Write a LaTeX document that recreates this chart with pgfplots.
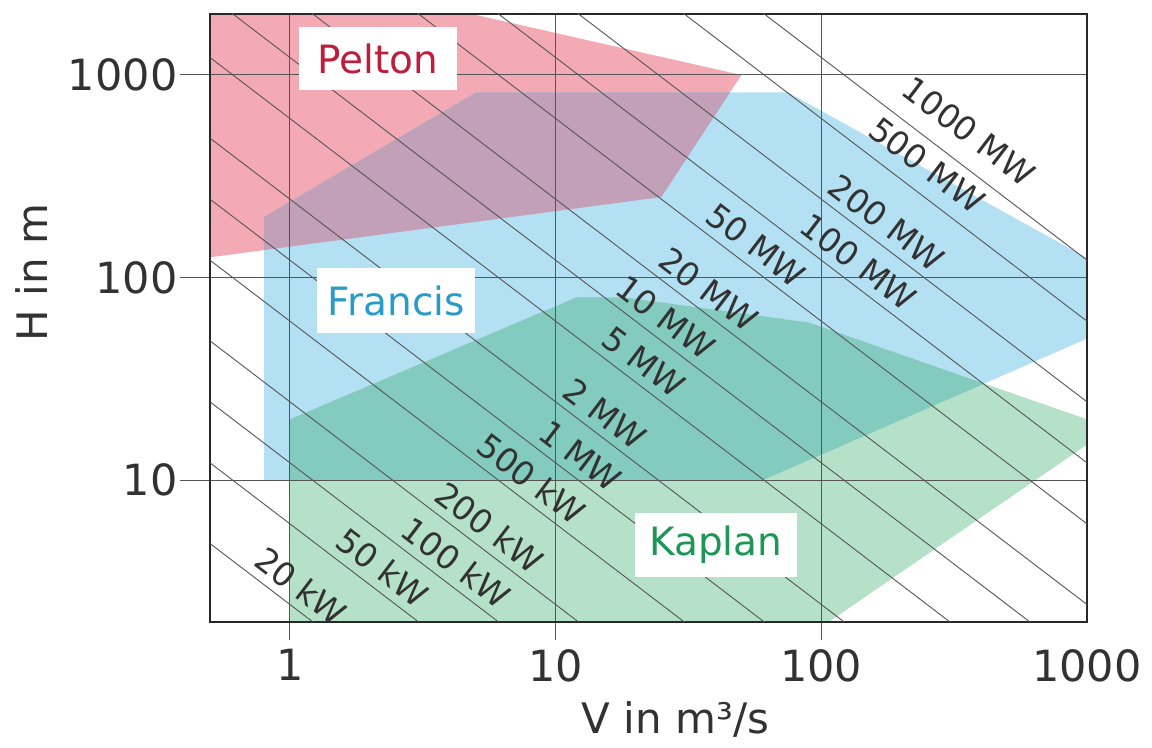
\documentclass[border=0pt]{standalone}
\usepackage{pgfplots}
\pgfplotsset{compat=1.18}
\usepackage{fontspec}
\setmainfont{DejaVu Sans}
\definecolor{peltonfill}{RGB}{244,170,180}
\definecolor{francisfill}{RGB}{180,224,243}
\definecolor{kaplanfill}{RGB}{182,225,201}
\definecolor{mauvefill}{RGB}{194,160,184}
\definecolor{tealfill}{RGB}{130,203,190}
\definecolor{peltontext}{RGB}{190,30,60}
\definecolor{francistext}{RGB}{40,155,200}
\definecolor{kaplantext}{RGB}{30,150,85}
\definecolor{gridgray}{RGB}{85,85,85}
\definecolor{framegray}{RGB}{40,40,40}
\definecolor{labelgray}{RGB}{50,50,50}
\tikzset{
  powerline/.style={color=gridgray, line width=0.45pt},
  plabel/.style={sloped, above, inner sep=4pt, text=labelgray, font=\fontsize{16.5}{19}\selectfont},
}
\begin{document}
\begin{tikzpicture}
\begin{axis}[
  set layers,
  scale only axis, width=438.5pt, height=304pt,
  xmode=log, ymode=log,
  xmin=0.5, xmax=1000, ymin=2, ymax=2000,
  xtick={1,10,100}, xticklabels={1,10,100},
  extra x ticks={1000}, extra x tick labels={1000},
  extra x tick style={grid=none, major tick style={draw=none}},
  ytick={10,100,1000}, yticklabels={10,100,1000},
  xminorticks=false, yminorticks=false,
  tick pos=left,
  tick align=outside,
  xtick style={/pgfplots/major tick length=9pt},
  ytick style={/pgfplots/major tick length=15pt},
  grid=major,
  major grid style={color=gridgray, line width=0.5pt},
  tick style={color=gridgray, line width=0.5pt},
  axis line style={color=framegray, line width=1.2pt},
  ticklabel style={font=\fontsize{21.5}{24}\selectfont, text=labelgray},
  xticklabel style={yshift=-6pt},
  yticklabel style={xshift=-8.5pt},
  xlabel={V in m³/s},
  ylabel={H in m},
  every axis x label/.style={at={(axis description cs:0.531,-0.161)}, anchor=center},
  every axis y label/.style={at={(axis description cs:-0.204,0.575)}, anchor=center, rotate=90},
  label style={font=\fontsize{21}{24}\selectfont, text=labelgray},
]
% regions
\addplot[fill=peltonfill, draw=none, on layer=axis background] coordinates {(0.5,126) (25,250) (50,1000) (4.83,2000) (0.5,2000)} -- cycle;
\addplot[fill=francisfill, draw=none, on layer=axis background] coordinates {(0.8,10) (0.8,200) (5,820) (75,820) (1000,125) (1000,50) (60,10)} -- cycle;
\addplot[fill=kaplanfill, draw=none, on layer=axis background] coordinates {(1,2) (1,20) (12,80) (18,80) (90,60) (1000,20) (1000,15) (106.6,2)} -- cycle;
\addplot[fill=mauvefill, draw=none, on layer=axis background] coordinates {(0.8,136.8) (0.8,200) (5,820) (45.3,820) (25,250)} -- cycle;
\addplot[fill=tealfill, draw=none, on layer=axis background] coordinates {(1,10) (1,20) (12,80) (18,80) (90,60) (410,30) (60,10)} -- cycle;
% power lines
\addplot[powerline] coordinates {(0.5,4.878) (1000,0.002439)} node[pos=0.089, plabel] {20 kW};
\addplot[powerline] coordinates {(0.5,12.195) (1000,0.006098)} node[pos=0.182, plabel] {50 kW};
\addplot[powerline] coordinates {(0.5,24.39) (1000,0.012195)} node[pos=0.266, plabel] {100 kW};
\addplot[powerline] coordinates {(0.5,48.78) (1000,0.02439)} node[pos=0.304, plabel] {200 kW};
\addplot[powerline] coordinates {(0.5,121.95) (1000,0.06098)} node[pos=0.352, plabel] {500 kW};
\addplot[powerline] coordinates {(0.5,243.9) (1000,0.12195)} node[pos=0.408, plabel] {1 MW};
\addplot[powerline] coordinates {(0.5,487.8) (1000,0.2439)} node[pos=0.436, plabel] {2 MW};
\addplot[powerline] coordinates {(0.5,1219.5) (1000,0.6098)} node[pos=0.480, plabel] {5 MW};
\addplot[powerline] coordinates {(0.5,2439) (1000,1.2195)} node[pos=0.505, plabel] {10 MW};
\addplot[powerline] coordinates {(0.5,4878) (1000,2.439)} node[pos=0.554, plabel] {20 MW};
\addplot[powerline] coordinates {(0.5,12195) (1000,6.098)} node[pos=0.608, plabel] {50 MW};
\addplot[powerline] coordinates {(0.5,24390) (1000,12.195)} node[pos=0.725, plabel] {100 MW};
\addplot[powerline] coordinates {(0.5,48780) (1000,24.39)} node[pos=0.757, plabel] {200 MW};
\addplot[powerline] coordinates {(0.5,121951) (1000,60.98)} node[pos=0.799, plabel, yshift=3pt] {500 MW};
\addplot[powerline] coordinates {(0.5,243902) (1000,121.95)} node[pos=0.844, plabel, yshift=5pt] {1000 MW};
% type boxes
\node[fill=white, minimum width=79pt, minimum height=31.5pt, text=peltontext, font=\fontsize{19.5}{22}\selectfont] at (axis cs:2.14,1205) {Pelton};
\node[fill=white, minimum width=79pt, minimum height=32.5pt, text=francistext, font=\fontsize{19.5}{22}\selectfont] at (axis cs:2.51,77) {Francis};
\node[fill=white, minimum width=81pt, minimum height=32pt, text=kaplantext, font=\fontsize{19.5}{22}\selectfont] at (axis cs:40.1,4.79) {Kaplan};
\coordinate (sw) at (rel axis cs:0,0);
\coordinate (ne) at (rel axis cs:1,1);
\end{axis}
\pgfresetboundingbox
\path[use as bounding box] ([shift={(-105pt,-62.5pt)}]sw) rectangle ([shift={(32.5pt,7pt)}]ne);
\end{tikzpicture}
\end{document}
